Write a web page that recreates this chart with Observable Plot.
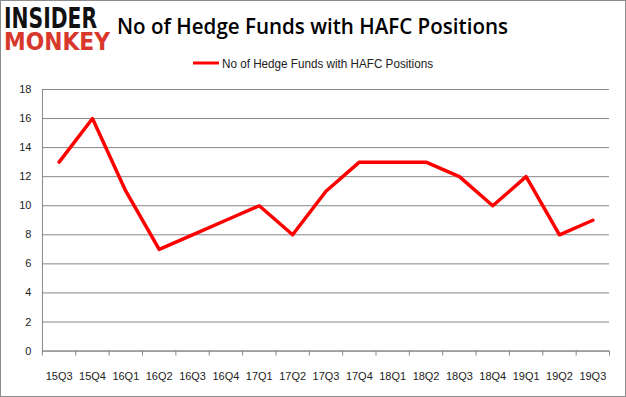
<!DOCTYPE html>
<html><head><meta charset="utf-8">
<script src="https://cdn.jsdelivr.net/npm/d3@7"></script>
<script src="https://cdn.jsdelivr.net/npm/@observablehq/plot@0.6"></script>
<style>
body{margin:0;background:#fff;}
#wrap{position:relative;width:626px;height:397px;box-sizing:border-box;border:1px solid #8c8c8c;overflow:hidden;background:#fff;}
#head{position:absolute;left:-1px;top:-1px;}
#chart{position:absolute;left:-1px;top:79px;}
</style></head>
<body>
<div id="wrap">
  <svg id="head" width="626" height="80" xmlns="http://www.w3.org/2000/svg">
    <text font-family="DejaVu Sans" font-weight="bold"><tspan x="4" y="28" font-size="27.5" fill="#111" textLength="93" lengthAdjust="spacingAndGlyphs">INSIDER</tspan><tspan x="4" y="50" font-size="24.7" fill="#d8382c" textLength="106" lengthAdjust="spacingAndGlyphs">MONKEY</tspan></text>
    <text x="117" y="34" font-family="Open Sans" font-weight="600" font-size="21" fill="#000" textLength="391" lengthAdjust="spacingAndGlyphs">No of Hedge Funds with HAFC Positions</text>
    <line x1="193" x2="219" y1="63" y2="63" stroke="#ff0000" stroke-width="3"/>
    <text x="222" y="67.5" font-family="Liberation Sans" font-size="12" fill="#222" textLength="211" lengthAdjust="spacingAndGlyphs">No of Hedge Funds with HAFC Positions</text>
  </svg>
  <div id="chart"></div>
</div>
<script>
const quarters = ["15Q3","15Q4","16Q1","16Q2","16Q3","16Q4","17Q1","17Q2","17Q3","17Q4","18Q1","18Q2","18Q3","18Q4","19Q1","19Q2","19Q3"];
const funds = [13,16,11,7,8,9,10,8,11,13,13,13,12,10,12,8,9];
const yTicks = [0,2,4,6,8,10,12,14,16,18];

const data = quarters.map((q, i) => ({i, q, v: funds[i]}));
const boundaries = d3.range(quarters.length + 1).map(k => k - 0.5);
const grey = "#868686";

const plot = Plot.plot({
  width: 626, height: 317,
  marginLeft: 42, marginRight: 16, marginTop: 9, marginBottom: 46,
  style: {fontFamily: "Liberation Sans, Arial, sans-serif", fontSize: "11px", color: "#222", background: "transparent"},
  x: {type: "linear", domain: [-0.5, quarters.length - 0.5]},
  y: {domain: [0, 18]},
  marks: [
    Plot.gridY(yTicks, {stroke: grey, strokeOpacity: 1}),
    Plot.ruleX([-0.5], {stroke: grey}),
    Plot.axisX(boundaries, {tickSize: 5, tickFormat: () => "", stroke: grey, strokeOpacity: 1, label: null}),
    Plot.axisX(d3.range(quarters.length), {tickSize: 0, tickPadding: 21, tickFormat: i => quarters[i], fill: "#222", label: null}),
    Plot.axisY(yTicks, {tickSize: 0, tickPadding: 11, fill: "#222", label: null}),
    Plot.ruleY([0], {stroke: grey}),
    Plot.lineY(data, {x: "i", y: "v", stroke: "#ff0000", strokeWidth: 3.5})
  ]
});
document.getElementById("chart").appendChild(plot);
</script>
</body></html>
